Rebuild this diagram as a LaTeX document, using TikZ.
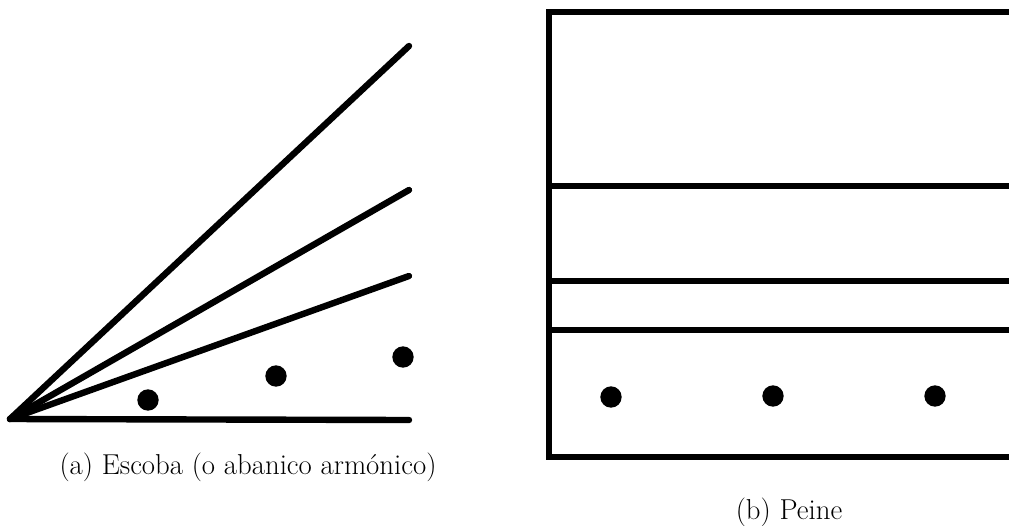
\documentclass[tikz,border=0pt]{standalone}
\begin{document}
\begin{tikzpicture}[x=0.75pt,y=-0.75pt,
  ln/.style={line width=4.8pt,line cap=round},
  dot/.style={circle,fill=black,inner sep=0pt,minimum size=16pt},
  captext/.style={font=\fontsize{21.6}{26}\selectfont}]
\useasboundingbox (0,0) rectangle (1009,525);
% (a) escoba
\coordinate (o) at (10,419);
\coordinate (e1) at (409,46);
\coordinate (e2) at (409,190);
\coordinate (e3) at (409,276);
\coordinate (e4) at (409,420);
\draw[ln] (o) -- (e1);
\draw[ln] (o) -- (e2);
\draw[ln] (o) -- (e3);
\draw[ln] (o) -- (e4);
\node[dot] (d1) at (148,400) {};
\node[dot] (d2) at (276,376) {};
\node[dot] (d3) at (403,357) {};
\node[captext] (ca) at (248,467) {(a) Escoba (o abanico armónico)};
% (b) peine
\coordinate (tl) at (549,12);
\coordinate (bl) at (549,457);
\coordinate (tr) at (1012,12);
\coordinate (br) at (1012,457);
\draw[ln,line cap=butt] (tr) -- (tl) -- (bl) -- (br);
\coordinate (l1) at (549,186);
\coordinate (r1) at (1012,186);
\coordinate (l2) at (549,281);
\coordinate (r2) at (1012,281);
\coordinate (l3) at (549,330);
\coordinate (r3) at (1012,330);
\draw[ln,line cap=butt] (l1) -- (r1);
\draw[ln,line cap=butt] (l2) -- (r2);
\draw[ln,line cap=butt] (l3) -- (r3);
\node[dot] (p1) at (611,397) {};
\node[dot] (p2) at (773,396) {};
\node[dot] (p3) at (935,396) {};
\node[captext] (cb) at (789,512) {(b) Peine};
\end{tikzpicture}
\end{document}
